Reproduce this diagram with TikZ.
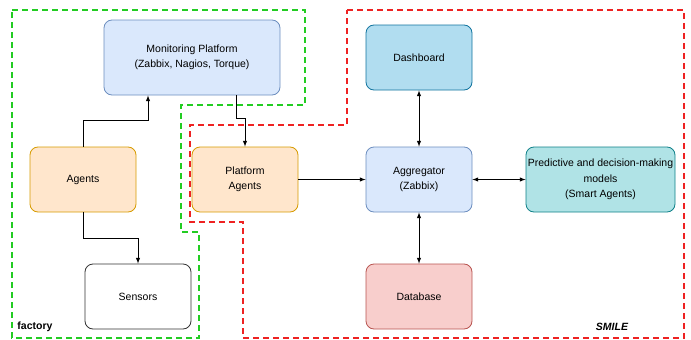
\documentclass[tikz,border=0pt]{standalone}
\usepackage{fontspec}
\setmainfont{Liberation Sans}
\usepackage{tikz}
\definecolor{BlueFill}{HTML}{DAE8FC}
\definecolor{BlueLine}{HTML}{6C8EBF}
\definecolor{OrangeFill}{HTML}{FFE6CC}
\definecolor{OrangeLine}{HTML}{D79B00}
\definecolor{DashFill}{HTML}{B1DDF0}
\definecolor{DashLine}{HTML}{10739E}
\definecolor{RedFill}{HTML}{F8CECC}
\definecolor{RedLine}{HTML}{B85450}
\definecolor{TealFill}{HTML}{B0E3E6}
\definecolor{TealLine}{HTML}{0E8088}
\definecolor{FactoryGreen}{HTML}{22CC22}
\definecolor{SmileRed}{HTML}{EE2222}

\begin{document}
\begin{tikzpicture}[x=1pt, y=-1pt, >=latex,
                      every node/.style={rounded corners=8pt, align=center, font=\fontsize{10.5}{15.5}\selectfont,
                                         minimum width=106pt, minimum height=65pt, inner sep=1pt, line width=0.8pt},
                      every path/.style={line width=1pt}]
  \useasboundingbox (0,0) rectangle (691,340);
  % boundaries
  \draw[FactoryGreen, line width=1.3pt, dash pattern=on 6pt off 4pt]
    (12,10) -- (305,10) -- (305,105) -- (181,105) -- (181,232) -- (199,232) -- (199,338) -- (12,338) -- cycle;
  \draw[SmileRed, line width=1.3pt, dash pattern=on 6pt off 4pt]
    (347,10) -- (684,10) -- (684,338) -- (243,338) -- (243,222) -- (190,222) -- (190,125) -- (347,125) -- cycle;
  % boxes
  \node[draw=BlueLine, fill=BlueFill, minimum width=176pt, minimum height=75pt] (mon) at (192,57.5) {Monitoring Platform\\(Zabbix, Nagios, Torque)};
  \node[draw=OrangeLine, fill=OrangeFill] (agents) at (83,179.5) {Agents};
  \node[draw=black!80, fill=white] (sensors) at (138,296.5) {Sensors};
  \node[draw=OrangeLine, fill=OrangeFill] (plat) at (245,179.5) {Platform\\Agents};
  \node[draw=DashLine, fill=DashFill] (dash) at (419,57.5) {Dashboard};
  \node[draw=BlueLine, fill=BlueFill] (aggr) at (419,179.5) {Aggregator\\(Zabbix)};
  \node[draw=RedLine, fill=RedFill] (db) at (419,296.5) {Database};
  \node[draw=TealLine, fill=TealFill, minimum width=149pt] (pred) at (600.5,179.5) {Predictive and decision-making\\models\\(Smart Agents)};
  % labels
  \node[draw=none, minimum width=0pt, minimum height=0pt, font=\fontsize{10.5}{12}\selectfont\bfseries] (factory) at (35,327) {factory};
  \node[draw=none, minimum width=0pt, minimum height=0pt, font=\fontsize{10.5}{12}\selectfont\bfseries\itshape] (smile) at (612,327) {SMILE};
  % connectors
  \draw[->] (agents.north) -- ++(0,-26) -| ([xshift=-44pt]mon.south);
  \draw[->] ([xshift=44pt]mon.south) -- ++(0,23) -| (plat.north);
  \draw[->] (agents.south) -- ++(0,26) -| (sensors.north);
  \draw[->] (plat) -- (aggr);
  \draw[<->] (aggr) -- (dash);
  \draw[<->] (aggr) -- (db);
  \draw[<->] (aggr) -- (pred);
\end{tikzpicture}
\end{document}
